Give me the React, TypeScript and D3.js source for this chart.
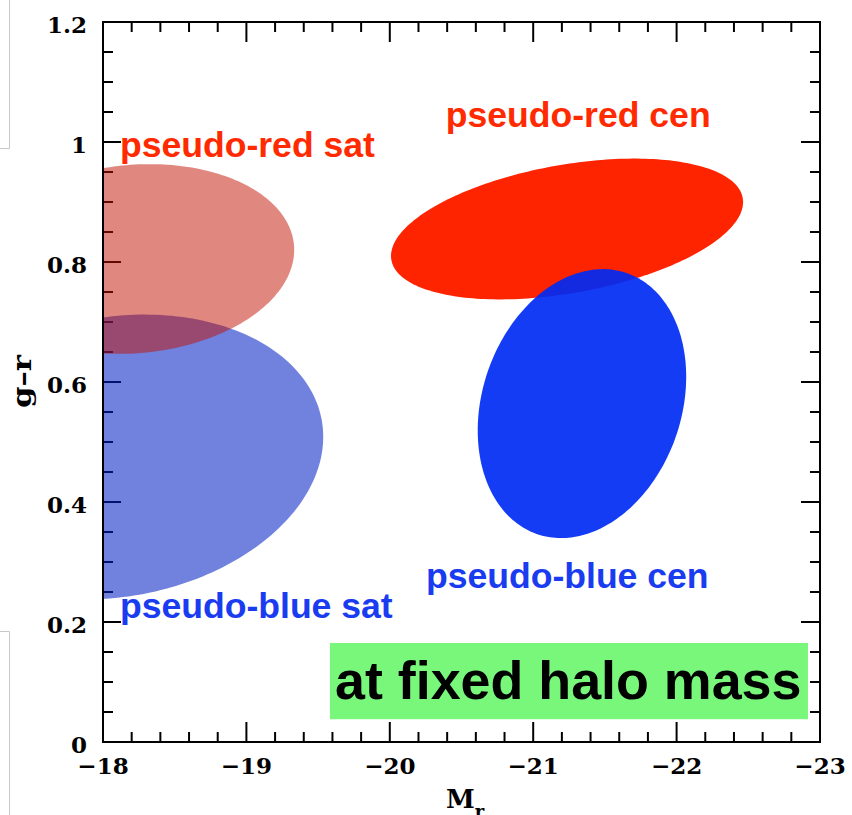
import React from "react";
import * as d3 from "d3";

// Colour–magnitude regions of satellite and central galaxy populations
const populations = ["pseudo-blue sat", "pseudo-red sat", "pseudo-red cen", "pseudo-blue cen"];
const centreMag = [-18.084, -18.22, -21.236, -21.34];
const centreColour = [0.475, 0.805, 0.855, 0.564];
const spreadMag = [1.464, 1.116, 1.244, 0.694];
const spreadColour = [0.233, 0.157, 0.107, 0.23];
const tiltDeg = [-10, -5, -10, 18.9];
const fillColours = ["rgb(0,32,196)", "rgb(193,15,0)", "#ff2400", "rgb(0,43,244)"];
const fillOpacity = [0.56, 0.5, 1, 0.92];

// Population labels (anchor in data coordinates)
const labelText = ["pseudo-red sat", "pseudo-red cen", "pseudo-blue sat", "pseudo-blue cen"];
const labelMag = [-18.118, -20.39, -18.118, -20.252];
const labelColour = [0.975, 1.025, 0.207, 0.257];
const labelFill = ["#ff2a00", "#ff2a00", "#1a3cf0", "#1a3cf0"];

const xMajorTicks = [-18, -19, -20, -21, -22, -23];
const xTickLabels = ["\u221218", "\u221219", "\u221220", "\u221221", "\u221222", "\u221223"];
const yMajorTicks = [0, 0.2, 0.4, 0.6, 0.8, 1, 1.2];
const yTickLabels = ["0", "0.2", "0.4", "0.6", "0.8", "1", "1.2"];

const W = 852;
const H = 815;
const x = d3.scaleLinear().domain([-18, -23]).range([103, 820]);
const y = d3.scaleLinear().domain([0, 1.2]).range([742, 22]);

const xMinor = d3.range(0, 26).map((i) => -18 - i * 0.2).filter((v) => Math.abs(v - Math.round(v)) > 1e-6);
const yMinor = d3.range(0, 25).map((i) => i * 0.05).filter((v) => Math.abs(v * 5 - Math.round(v * 5)) > 1e-6);

function ellipsePath(i: number): string {
  const kx = Math.abs(x(1) - x(0));
  const ky = Math.abs(y(1) - y(0));
  const a = spreadMag[i] * kx;
  const b = spreadColour[i] * ky;
  const th = (tiltDeg[i] * Math.PI) / 180;
  const cx = x(centreMag[i]);
  const cy = y(centreColour[i]);
  const pts: [number, number][] = d3.range(0, 240).map((k) => {
    const t = (k / 240) * 2 * Math.PI;
    const u = a * Math.cos(t);
    const v = b * Math.sin(t);
    return [cx + u * Math.cos(th) - v * Math.sin(th), cy + u * Math.sin(th) + v * Math.cos(th)];
  });
  return d3.line().curve(d3.curveLinearClosed)(pts) || "";
}

export default function App() {
  const [x0, x1] = x.range();
  const [y0, y1] = y.range();
  const tickFont = { fontFamily: "'DejaVu Serif', serif", fontWeight: 700, fontSize: 23 };
  const labelFont = { fontFamily: "'Liberation Sans', Arial, sans-serif", fontWeight: 700, fontSize: 35.6 };
  return (
    <svg width={W} height={H} style={{ position: "absolute", left: 0, top: 0, background: "#fff" }}>
      <defs>
        <clipPath id="plotArea">
          <rect x={x0 + 1} y={y1 + 1} width={x1 - x0 - 2} height={y0 - y1 - 2} />
        </clipPath>
      </defs>
      <rect width={W} height={H} fill="#fff" />
      {/* window frame edges at the left margin */}
      <g stroke="#c8c8c8" strokeWidth={1} fill="none">
        <path d="M9.5,0 V148.5 H0" />
        <path d="M0,631.5 H9.5 V815" />
      </g>

      {/* axes frame and ticks */}
      <g stroke="#000" strokeWidth={2} fill="none">
        <rect x={x0} y={y1} width={x1 - x0} height={y0 - y1} />
        {xMajorTicks.map((v) => (
          <g key={"xM" + v}>
            <line x1={x(v)} x2={x(v)} y1={y0} y2={y0 - 20} />
            <line x1={x(v)} x2={x(v)} y1={y1} y2={y1 + 20} />
          </g>
        ))}
        {xMinor.map((v) => (
          <g key={"xm" + v}>
            <line x1={x(v)} x2={x(v)} y1={y0} y2={y0 - 10} />
            <line x1={x(v)} x2={x(v)} y1={y1} y2={y1 + 10} />
          </g>
        ))}
        {yMajorTicks.map((v) => (
          <g key={"yM" + v}>
            <line x1={x0} x2={x0 + 18} y1={y(v)} y2={y(v)} />
            <line x1={x1} x2={x1 - 19} y1={y(v)} y2={y(v)} />
          </g>
        ))}
        {yMinor.map((v) => (
          <g key={"ym" + v}>
            <line x1={x0} x2={x0 + 10} y1={y(v)} y2={y(v)} />
            <line x1={x1} x2={x1 - 10} y1={y(v)} y2={y(v)} />
          </g>
        ))}
      </g>

      {/* population regions */}
      <g clipPath="url(#plotArea)">
        {populations.map((p, i) => (
          <path key={p} d={ellipsePath(i)} fill={fillColours[i]} fillOpacity={fillOpacity[i]} />
        ))}
      </g>

      {/* tick labels */}
      <g style={tickFont} fill="#000">
        {xMajorTicks.map((v, i) => (
          <text key={"xl" + v} x={x(v)} y={y0 + 32} textAnchor="middle">
            {xTickLabels[i]}
          </text>
        ))}
        {yMajorTicks.map((v, i) => (
          <text key={"yl" + v} x={x0 - 16} y={y(v) + 11} textAnchor="end">
            {yTickLabels[i]}
          </text>
        ))}
      </g>

      {/* axis titles */}
      <text
        transform="translate(31,408) rotate(-90)"
        style={{ fontFamily: "'DejaVu Serif', serif", fontWeight: 700, fontSize: 26 }}
        textLength={53}
        lengthAdjust="spacingAndGlyphs"
      >
        g{"\u2013"}r
      </text>
      <text x={446} y={808} style={{ fontFamily: "'DejaVu Serif', serif", fontWeight: 700, fontSize: 26 }}>
        M
        <tspan dy={10} fontSize={18}>
          r
        </tspan>
      </text>

      {/* population labels */}
      <g style={labelFont}>
        {labelText.map((t, i) => (
          <text key={t} x={x(labelMag[i])} y={y(labelColour[i])} fill={labelFill[i]}>
            {t}
          </text>
        ))}
      </g>

      {/* annotation box */}
      <rect x={x(-19.583)} y={y(0.165)} width={x(-22.916) - x(-19.583)} height={y(0.038) - y(0.165)} fill="#78f77b" />
      <text
        x={x(-19.583) + 5}
        y={699}
        style={{ fontFamily: "'Liberation Sans', Arial, sans-serif", fontWeight: 700, fontSize: 53.8 }}
        fill="#000"
      >
        at fixed halo mass
      </text>
    </svg>
  );
}
